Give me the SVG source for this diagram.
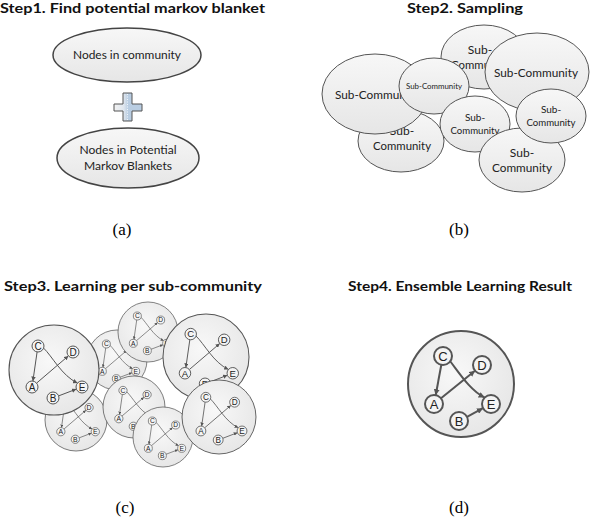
<svg xmlns="http://www.w3.org/2000/svg" xmlns:xlink="http://www.w3.org/1999/xlink" width="590" height="520" viewBox="0 0 590 520">
<defs>
<style>
.title{font-family:Lato,"Open Sans","Liberation Sans",sans-serif;font-weight:bold;font-size:14px;fill:#111}
.cap{font-family:"Liberation Serif",serif;font-size:17px;fill:#000;text-anchor:middle}
.lbl{font-family:Lato,"Open Sans","Liberation Sans",sans-serif;fill:#222;text-anchor:middle}
.ell{fill:url(#eg);stroke:#444;stroke-width:1.5}
.sub{fill:url(#eg);stroke:#555;stroke-width:1}
.edge{fill:none;stroke:#555;stroke-width:1}
.nd{fill:#f4f4f4;stroke:#555;stroke-width:1}
.nt{font-family:"Liberation Sans",Arial,sans-serif;font-size:10px;fill:#222;text-anchor:middle}
.big{fill:none;stroke:#555;stroke-width:2}
.bnd{fill:#f4f4f4;stroke:#555;stroke-width:2}
.bnt{font-family:"Liberation Sans",Arial,sans-serif;font-size:13px;fill:#222;text-anchor:middle}
</style>
<linearGradient id="eg" x1="0" y1="0" x2="0" y2="1">
<stop offset="0" stop-color="#f7f7f7"/>
<stop offset="1" stop-color="#e6e6e6"/>
</linearGradient>
<radialGradient id="cg" cx="0.45" cy="0.4" r="0.6">
<stop offset="0" stop-color="#f8f8f8"/>
<stop offset="1" stop-color="#e7e7e7"/>
</radialGradient>
<linearGradient id="pg" x1="0" y1="0" x2="1" y2="0">
<stop offset="0" stop-color="#f2f2f2"/>
<stop offset="0.35" stop-color="#dfe6ee"/>
<stop offset="0.5" stop-color="#b9cde2"/>
<stop offset="1" stop-color="#b9cde2"/>
</linearGradient>
<marker id="ah" viewBox="0 0 6 6" refX="6" refY="3" markerWidth="4.5" markerHeight="4.5" orient="auto" markerUnits="strokeWidth">
<path d="M0,0 L6,3 L0,6 z" fill="#555"/>
</marker>
<marker id="ahb" viewBox="0 0 6 6" refX="6" refY="3" markerWidth="6" markerHeight="6" orient="auto" markerUnits="userSpaceOnUse">
<path d="M0,0 L6,3 L0,6 z" fill="#555"/>
</marker>
<g id="mini">
<circle cx="0" cy="0" r="45" fill="url(#cg)" stroke="#555" stroke-width="1.1"/>
<path class="edge" d="M-16.9,-18.1 L-21.1,11.1" marker-end="url(#ah)"/>
<path class="edge" d="M-17.4,13.1 L14.4,-14.1" marker-end="url(#ah)"/>
<path class="edge" d="M4.6,25.9 L22.4,19.1" marker-end="url(#ah)"/>
<path class="edge" d="M-10.5,-22 C-2,-14 8,6 23.5,13" marker-end="url(#ah)"/>
<circle class="nd" cx="-16" cy="-24" r="6"/>
<circle class="nd" cx="19" cy="-18" r="6"/>
<circle class="nd" cx="-22" cy="17" r="6"/>
<circle class="nd" cx="28" cy="17" r="6"/>
<circle class="nd" cx="-1" cy="28" r="6"/>
<text class="nt" x="-16" y="-20.5">C</text>
<text class="nt" x="19" y="-14.5">D</text>
<text class="nt" x="-22" y="20.5">A</text>
<text class="nt" x="28" y="20.5">E</text>
<text class="nt" x="-1" y="31.5">B</text>
</g>
</defs>
<rect width="590" height="520" fill="#fff"/>

<!-- Panel (a) -->
<text class="title" x="0" y="13" textLength="265" lengthAdjust="spacingAndGlyphs">Step1. Find potential markov blanket</text>
<g id="community">
<ellipse class="ell" cx="127" cy="55" rx="74" ry="27"/>
<text class="lbl" x="127" y="59" font-size="11" textLength="108" lengthAdjust="spacingAndGlyphs">Nodes in community</text>
</g>
<g id="plus">
<path d="M123,93 H132 V104 H142 V111 H132 V121 H123 V111 H114 V104 H123 Z" fill="url(#pg)" stroke="#555" stroke-width="1"/>
<line x1="127.5" y1="94" x2="127.5" y2="120" stroke="#fff" stroke-width="0.8" stroke-dasharray="1 1.5"/>
</g>
<g id="potential">
<ellipse class="ell" cx="128" cy="158" rx="71" ry="30"/>
<text class="lbl" x="128" y="154" font-size="11" textLength="97" lengthAdjust="spacingAndGlyphs">Nodes in Potential</text>
<text class="lbl" x="128" y="170" font-size="11" textLength="88" lengthAdjust="spacingAndGlyphs">Markov Blankets</text>
</g>
<text class="cap" x="122" y="235">(a)</text>

<!-- Panel (b) -->
<text class="title" x="407" y="13" textLength="116" lengthAdjust="spacingAndGlyphs">Step2. Sampling</text>
<g id="sc-bottomleft">
<ellipse class="sub" cx="401" cy="141" rx="43" ry="31"/>
<text class="lbl" x="402" y="135" font-size="12">Sub-</text>
<text class="lbl" x="402" y="150" font-size="12" textLength="58" lengthAdjust="spacingAndGlyphs">Community</text>
</g>
<g id="sc-left">
<ellipse class="sub" cx="375" cy="94" rx="53" ry="40"/>
<text class="lbl" x="377" y="99" font-size="12" textLength="84" lengthAdjust="spacingAndGlyphs">Sub-Community</text>
</g>
<g id="sc-topmid">
<ellipse class="sub" cx="484" cy="57" rx="43" ry="32"/>
<text class="lbl" x="480" y="54" font-size="12">Sub-</text>
<text class="lbl" x="480" y="69" font-size="12" textLength="58" lengthAdjust="spacingAndGlyphs">Community</text>
</g>
<g id="sc-smallmid">
<ellipse class="sub" cx="434" cy="86" rx="35" ry="28"/>
<text class="lbl" x="434" y="89" font-size="8" textLength="56" lengthAdjust="spacingAndGlyphs">Sub-Community</text>
</g>
<g id="sc-right">
<ellipse class="sub" cx="537" cy="72" rx="52" ry="39"/>
<text class="lbl" x="536" y="77" font-size="12" textLength="84" lengthAdjust="spacingAndGlyphs">Sub-Community</text>
</g>
<g id="sc-center">
<ellipse class="sub" cx="475" cy="124" rx="35" ry="28"/>
<text class="lbl" x="475" y="121" font-size="10">Sub-</text>
<text class="lbl" x="475" y="134" font-size="10" textLength="49" lengthAdjust="spacingAndGlyphs">Community</text>
</g>
<g id="sc-bottomright">
<ellipse class="sub" cx="522" cy="160" rx="43" ry="32"/>
<text class="lbl" x="522" y="157" font-size="12">Sub-</text>
<text class="lbl" x="522" y="172" font-size="12" textLength="60" lengthAdjust="spacingAndGlyphs">Community</text>
</g>
<g id="sc-smallright">
<ellipse class="sub" cx="551" cy="116" rx="35" ry="27"/>
<text class="lbl" x="551" y="113" font-size="10">Sub-</text>
<text class="lbl" x="551" y="126" font-size="10" textLength="49" lengthAdjust="spacingAndGlyphs">Community</text>
</g>
<text class="cap" x="459" y="235">(b)</text>

<!-- Panel (c) -->
<text class="title" x="4" y="291" textLength="258" lengthAdjust="spacingAndGlyphs">Step3. Learning per sub-community</text>
<g id="c-midupper"><use xlink:href="#mini" href="#mini" transform="translate(117,360) scale(0.667)"/></g>
<g id="c-top"><use xlink:href="#mini" href="#mini" transform="translate(148,332) scale(0.667)"/></g>
<g id="c-rightupper"><use xlink:href="#mini" href="#mini" transform="translate(206,357) scale(0.956)"/></g>
<g id="c-bottomleft"><use xlink:href="#mini" href="#mini" transform="translate(76,420) scale(0.689)"/></g>
<g id="c-bigleft"><use xlink:href="#mini" href="#mini" transform="translate(54,370)"/></g>
<g id="c-center"><use xlink:href="#mini" href="#mini" transform="translate(134,407) scale(0.689)"/></g>
<g id="c-bottomcenter"><use xlink:href="#mini" href="#mini" transform="translate(163,437) scale(0.667)"/></g>
<g id="c-bottomright"><use xlink:href="#mini" href="#mini" transform="translate(219,417) scale(0.822)"/></g>
<text class="cap" x="125" y="513">(c)</text>

<!-- Panel (d) -->
<text class="title" x="348" y="291" textLength="224" lengthAdjust="spacingAndGlyphs">Step4. Ensemble Learning Result</text>
<g id="d-frame"><circle cx="461" cy="384" r="53" fill="url(#cg)" stroke="#555" stroke-width="2"/></g>
<g id="d-edges">
<path class="big" d="M441.3,364.8 L435.7,395.2" marker-end="url(#ahb)"/>
<path class="big" d="M441,398.3 L475,370.7" marker-end="url(#ahb)"/>
<path class="big" d="M467,416.8 L483,408.2" marker-end="url(#ahb)"/>
<path class="big" d="M450,361 C460,374 470,390 484.6,397.6" marker-end="url(#ahb)"/>
</g>
<g id="nodeC"><circle class="bnd" cx="443" cy="356" r="9"/><text class="bnt" x="443" y="361">C</text></g>
<g id="nodeD"><circle class="bnd" cx="482" cy="365" r="9"/><text class="bnt" x="482" y="370">D</text></g>
<g id="nodeA"><circle class="bnd" cx="434" cy="404" r="9"/><text class="bnt" x="434" y="409">A</text></g>
<g id="nodeE"><circle class="bnd" cx="491" cy="404" r="9"/><text class="bnt" x="491" y="409">E</text></g>
<g id="nodeB"><circle class="bnd" cx="459" cy="421" r="9"/><text class="bnt" x="459" y="426">B</text></g>
<text class="cap" x="459" y="513">(d)</text>
</svg>
